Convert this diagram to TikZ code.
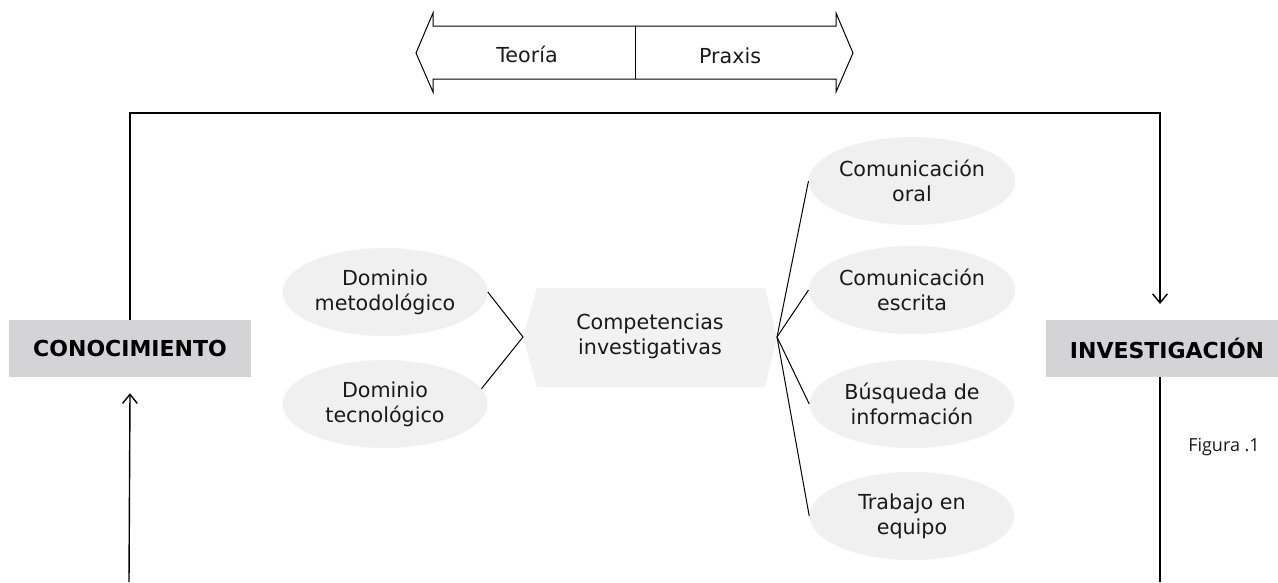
\documentclass[tikz,border=0pt]{standalone}
\usepackage{fontspec}
\setmainfont{DejaVu Sans}
\newfontfamily\figfont{Open Sans}
\usetikzlibrary{shapes.geometric,arrows.meta,calc}
\definecolor{boxgray}{HTML}{D4D4D6}
\definecolor{ellgray}{HTML}{F0F0F0}
\definecolor{hexgray}{HTML}{F2F2F2}
\definecolor{ink}{HTML}{1A1A1A}
\begin{document}
\begin{tikzpicture}[x=0.75pt,y=-0.75pt,
  txt/.style={font=\fontsize{15.5}{18.5}\selectfont, align=center, text=ink},
  ell/.style={ellipse, fill=ellgray, minimum width=153.75pt, minimum height=66pt, inner sep=0pt, txt},
  lab/.style={fill=boxgray, minimum height=42.75pt, inner sep=0pt, font=\bfseries\fontsize{16.5}{19}\selectfont, text=black},
  conn/.style={line width=0.75pt},
  framel/.style={line width=1.05pt},
  barb/.style={-{Straight Barb[length=6.75pt,width=11pt]}}]
\useasboundingbox (0,0) rectangle (1278,582);

% top double arrow
\draw[conn, fill=white] (416,53) -- (433,13) -- (433,26) -- (836,26) -- (836,13) -- (853,53)
  -- (836,92) -- (836,79) -- (433,79) -- (433,92) -- cycle;
\coordinate (divt) at (635,26);
\coordinate (divb) at (635,79);
\draw[conn] (divt) -- (divb);
\node[txt] (teo) at (527,54) {Teoría};
\node[txt] (pra) at (730,56) {Praxis};

% side boxes
\node[lab, minimum width=181.5pt] (con) at (130,348.5) {CONOCIMIENTO};
\node[lab, minimum width=181.5pt] (inv) at (1167,348.5) {INVESTIGACIÓN};

% frame
\coordinate (tl) at (129,113);
\coordinate (bl) at (129,582);
\coordinate (br) at (1160,582);
\coordinate (invtip) at (1160,304);
\coordinate (invbot) at (1160,377);
\draw[framel, barb] (con.north) -- (con.north |- tl) -| (invtip);
\draw[framel, barb] (bl) -- ($(con.south)+(0,16)$);
\draw[framel] (invbot) -- (br);

% hexagon
\coordinate (hexL) at (523,337);
\coordinate (hexR) at (777,337);
\fill[hexgray] (hexL) -- (537,288) -- (765,288) -- (hexR) -- (765,387) -- (537,387) -- cycle;
\node[txt] (comp) at (650,336) {Competencias\\investigativas};

% left ellipses
\node[ell] (mt) at (385,292) {Dominio\\metodológico};
\node[ell] (dt) at (385,404) {Dominio\\tecnológico};

% right ellipses
\node[ell] (co) at (912,181) {Comunicación\\oral};
\node[ell] (ce) at (912,290) {Comunicación\\escrita};
\node[ell] (bi) at (912,404) {Búsqueda de\\información};
\node[ell] (te) at (912,516) {Trabajo en\\equipo};

% connectors
\draw[conn] (mt.east) -- (hexL);
\draw[conn] (dt.9) -- (hexL);
\draw[conn] (hexR) -- (co.west);
\draw[conn] (hexR) -- (ce.west);
\draw[conn] (hexR) -- (bi.west);
\draw[conn] (hexR) -- (te.west);

% caption
\node[font=\figfont\fontsize{13.5}{16}\selectfont, text=ink] (fig) at (1224,447) {Figura .1};
\end{tikzpicture}
\end{document}
